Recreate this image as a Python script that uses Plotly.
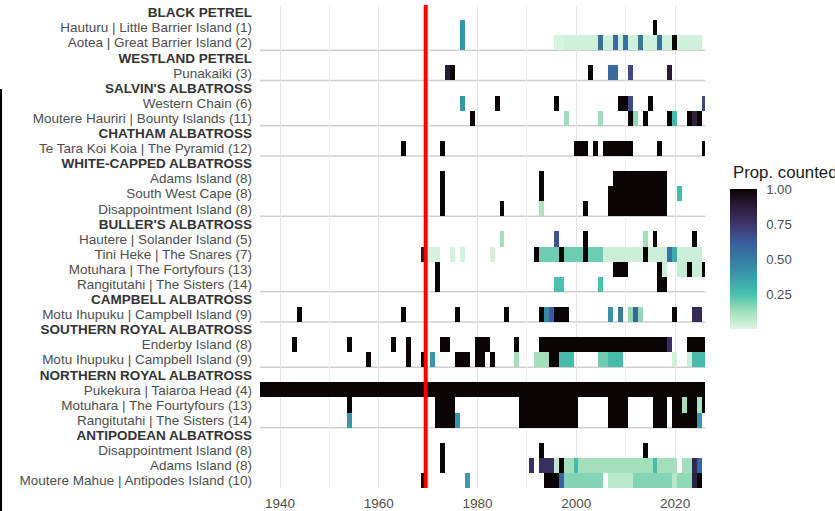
import plotly.graph_objects as go

# --- DATA ---
YEARS = list(range(1936, 2027))

ROW_LABELS = [
    "BLACK PETREL",
    "Hauturu | Little Barrier Island (1)",
    "Aotea | Great Barrier Island (2)",
    "WESTLAND PETREL",
    "Punakaiki (3)",
    "SALVIN'S ALBATROSS",
    "Western Chain (6)",
    "Moutere Hauriri | Bounty Islands (11)",
    "CHATHAM ALBATROSS",
    "Te Tara Koi Koia | The Pyramid (12)",
    "WHITE-CAPPED ALBATROSS",
    "Adams Island (8)",
    "South West Cape (8)",
    "Disappointment Island (8)",
    "BULLER'S ALBATROSS",
    "Hautere | Solander Island (5)",
    "Tini Heke | The Snares (7)",
    "Motuhara | The Fortyfours (13)",
    "Rangitutahi | The Sisters (14)",
    "CAMPBELL ALBATROSS",
    "Motu Ihupuku | Campbell Island (9)",
    "SOUTHERN ROYAL ALBATROSS",
    "Enderby Island (8)",
    "Motu Ihupuku | Campbell Island (9)",
    "NORTHERN ROYAL ALBATROSS",
    "Pukekura | Taiaroa Head (4)",
    "Motuhara | The Fourtyfours (13)",
    "Rangitutahi | The Sisters (14)",
    "ANTIPODEAN ALBATROSS",
    "Disappointment Island (8)",
    "Adams Island (8)",
    "Moutere Mahue | Antipodes Island (10)",
]
HEADER_ROWS = [0, 3, 5, 8, 10, 14, 19, 21, 24, 28]

# (first year, last year, proportion counted); later entries overwrite earlier ones
OBS = {
    1: [(1977, 1977, 0.40), (2016, 2016, 1.0)],
    2: [(1977, 1977, 0.40), (1996, 1997, 0.01), (1998, 2025, 0.03),
        (2005, 2005, 0.54), (2008, 2008, 0.56), (2010, 2010, 0.53),
        (2013, 2013, 0.52), (2017, 2017, 0.54), (2020, 2020, 1.0)],
    4: [(1974, 1974, 0.88), (1975, 1975, 1.0), (2003, 2003, 1.0),
        (2007, 2008, 0.57), (2011, 2011, 0.68), (2019, 2019, 0.88)],
    6: [(1977, 1977, 0.40), (1984, 1984, 1.0), (1996, 1996, 1.0),
        (2009, 2010, 1.0), (2011, 2011, 0.68), (2015, 2015, 1.0), (2026, 2026, 0.68)],
    7: [(1979, 1979, 1.0), (1998, 1998, 0.13), (2005, 2005, 0.13),
        (2011, 2011, 1.0), (2012, 2012, 0.15), (2014, 2014, 1.0),
        (2019, 2019, 1.0), (2020, 2020, 0.27), (2023, 2023, 1.0),
        (2024, 2024, 0.85), (2025, 2025, 1.0)],
    9: [(1965, 1965, 1.0), (1973, 1973, 1.0), (2000, 2002, 1.0),
        (2004, 2004, 1.0), (2006, 2011, 1.0), (2017, 2017, 1.0), (2026, 2026, 1.0)],
    11: [(1973, 1973, 1.0), (1993, 1993, 1.0), (2008, 2018, 1.0)],
    12: [(1973, 1973, 1.0), (1993, 1993, 1.0), (2007, 2018, 1.0), (2021, 2021, 0.27)],
    13: [(1973, 1973, 1.0), (1985, 1985, 1.0), (1993, 1993, 0.10),
         (2002, 2002, 1.0), (2007, 2018, 1.0)],
    15: [(1985, 1985, 0.12), (1996, 1996, 0.65), (2002, 2002, 1.0),
         (2014, 2014, 0.12), (2016, 2016, 1.0), (2024, 2024, 1.0)],
    16: [(1969, 1969, 0.90), (1970, 1972, 0.02), (1975, 1975, 0.02),
         (1977, 1977, 0.02), (1983, 1983, 0.02), (1992, 1992, 1.0),
         (1993, 1996, 0.20), (1997, 1997, 1.0), (1998, 2001, 0.20),
         (2002, 2002, 1.0), (2003, 2005, 0.20), (2006, 2013, 0.04),
         (2014, 2014, 1.0), (2015, 2018, 0.04), (2019, 2019, 0.52),
         (2020, 2020, 0.33), (2021, 2025, 0.04)],
    17: [(1972, 1972, 1.0), (2008, 2010, 1.0), (2017, 2017, 1.0),
         (2018, 2018, 0.04), (2021, 2022, 0.05), (2023, 2023, 1.0),
         (2024, 2025, 0.04), (2026, 2026, 1.0)],
    18: [(1972, 1972, 1.0), (1996, 1997, 0.25), (2005, 2005, 0.25), (2017, 2018, 1.0)],
    20: [(1944, 1944, 1.0), (1965, 1965, 1.0), (1976, 1976, 1.0),
         (1986, 1986, 1.0), (1993, 1993, 1.0), (1994, 1994, 0.45),
         (1995, 1995, 0.62), (1996, 1998, 1.0), (2007, 2007, 0.42),
         (2009, 2009, 0.50), (2011, 2011, 0.15), (2012, 2012, 0.58),
         (2013, 2013, 0.15), (2020, 2020, 1.0), (2024, 2025, 0.80)],
    22: [(1943, 1943, 1.0), (1954, 1954, 1.0), (1963, 1963, 1.0),
         (1966, 1966, 1.0), (1973, 1974, 1.0), (1980, 1982, 1.0),
         (1988, 1988, 1.0), (1993, 2018, 1.0), (2019, 2019, 0.78),
         (2023, 2026, 1.0)],
    23: [(1958, 1958, 1.0), (1966, 1966, 1.0), (1969, 1969, 1.0),
         (1971, 1971, 0.40), (1976, 1978, 1.0), (1980, 1981, 1.0),
         (1983, 1983, 1.0), (1988, 1988, 0.12), (1992, 1994, 0.12),
         (1995, 1996, 1.0), (1997, 1999, 0.27), (2005, 2006, 0.20),
         (2007, 2009, 0.27), (2020, 2020, 0.02), (2023, 2023, 0.04),
         (2024, 2026, 0.27)],
    25: [(1936, 2026, 1.0)],
    26: [(1954, 1954, 1.0), (1972, 1975, 1.0), (1989, 2000, 1.0),
         (2007, 2010, 1.0), (2016, 2018, 1.0), (2020, 2021, 1.0),
         (2022, 2022, 0.12), (2023, 2024, 1.0), (2025, 2025, 0.10),
         (2026, 2026, 1.0)],
    27: [(1954, 1954, 0.40), (1972, 1975, 1.0), (1976, 1976, 0.40),
         (1989, 2000, 1.0), (2007, 2010, 1.0), (2016, 2018, 1.0),
         (2020, 2024, 1.0), (2025, 2025, 0.40)],
    29: [(1973, 1973, 1.0), (1993, 1993, 1.0), (2014, 2014, 1.0)],
    30: [(1973, 1973, 1.0), (1991, 1991, 0.78), (1993, 1995, 0.78),
         (1996, 1996, 0.07), (1997, 1997, 1.0), (1998, 1999, 0.12),
         (2000, 2000, 0.27), (2001, 2015, 0.12), (2016, 2016, 0.27),
         (2017, 2020, 0.12), (2022, 2023, 0.12), (2024, 2024, 0.82),
         (2025, 2025, 0.58)],
    31: [(1969, 1969, 1.0), (1978, 1978, 0.38), (1994, 1996, 1.0),
         (1997, 1997, 0.60), (1998, 2005, 0.17), (2007, 2011, 0.07),
         (2012, 2019, 0.17), (2020, 2020, 0.08), (2021, 2023, 0.15),
         (2024, 2024, 0.85), (2025, 2025, 1.0)],
}

REF_YEAR = 1969.5

# --- THEME ---
TEXT_COLOR = "#4D4D4D"
HEADER_COLOR = "#333333"
FONT = "Liberation Sans, Arial, sans-serif"

MAKO_R = [
    [0.0, "#DEF5E5"], [0.125, "#A0DFB9"], [0.25, "#49C1AD"],
    [0.375, "#389EAB"], [0.5, "#357BA2"], [0.625, "#3B5A9D"],
    [0.75, "#3E356B"], [0.875, "#2B1C3A"], [1.0, "#0B0405"],
]

# build the matrix
z = [[None] * len(YEARS) for _ in ROW_LABELS]
for row, segs in OBS.items():
    for y0, y1, v in segs:
        for yr in range(y0, y1 + 1):
            z[row][yr - YEARS[0]] = v

ticktext = []
for i, lab in enumerate(ROW_LABELS):
    if i in HEADER_ROWS:
        ticktext.append('<span style="color:%s"><b>%s</b></span>' % (HEADER_COLOR, lab))
    else:
        ticktext.append(lab)

fig = go.Figure()
fig.add_trace(
    go.Heatmap(
        x=YEARS,
        y=list(range(len(ROW_LABELS))),
        z=z,
        zmin=0,
        zmax=1,
        colorscale=MAKO_R,
        hoverongaps=False,
        colorbar=dict(
            tickvals=[0.25, 0.5, 0.75, 1.0],
            ticktext=["0.25", "0.50", "0.75", "1.00"],
            ticks="outside",
            tickcolor="white",
            ticklen=7,
            outlinewidth=0,
            thickness=27,
            lenmode="pixels",
            len=140,
            x=1.056,
            xanchor="left",
            xpad=0,
            y=0.474,
            yanchor="middle",
            ypad=0,
            tickfont=dict(size=13.2, color=TEXT_COLOR, family=FONT),
        ),
    )
)

# legend title (clipped at the right edge like the original)
fig.add_annotation(text="Prop. counted", xref="paper", yref="paper",
                   x=1.0584, y=0.654, xanchor="left", yanchor="middle",
                   showarrow=False, font=dict(size=16.8, color="#1a1a1a", family=FONT))

# separators above each species block
for h in HEADER_ROWS[1:]:
    fig.add_shape(type="line", xref="x", yref="y", x0=1935.95, x1=2026.05,
                  y0=h - 0.5, y1=h - 0.5, line=dict(color="#CFCFCF", width=1.5),
                  layer="below")

fig.add_shape(type="line", xref="x", yref="y", x0=REF_YEAR, x1=REF_YEAR,
              y0=-0.5, y1=len(ROW_LABELS) - 0.5, line=dict(color="#FF0000", width=4))

# page border at left
fig.add_shape(type="line", xref="paper", yref="paper", x0=-0.582, x1=-0.582,
              y0=0.826, y1=-0.05, line=dict(color="#000000", width=2))

fig.update_layout(
    width=835,
    height=511,
    margin=dict(l=260, r=130, t=5, b=23, autoexpand=False),
    paper_bgcolor="white",
    plot_bgcolor="white",
    font=dict(family=FONT, color=TEXT_COLOR),
    xaxis=dict(
        range=[1935.95, 2026.05],
        tickvals=[1940, 1960, 1980, 2000, 2020],
        showgrid=True,
        gridcolor="#E4E4E4",
        gridwidth=1.2,
        minor=dict(tickvals=[1950, 1970, 1990, 2010], showgrid=True,
                   gridcolor="#EFEFEF", gridwidth=0.8),
        zeroline=False,
        showline=False,
        ticks="",
        automargin=False,
        ticklabelstandoff=5,
        tickfont=dict(size=13.5, color=TEXT_COLOR),
    ),
    yaxis=dict(
        range=[len(ROW_LABELS) - 0.5, -0.5],
        tickvals=list(range(len(ROW_LABELS))),
        ticktext=ticktext,
        showgrid=False,
        zeroline=False,
        showline=False,
        ticks="",
        automargin=False,
        ticklabelstandoff=7,
        tickfont=dict(size=13.5, color=TEXT_COLOR),
    ),
)

fig.write_html("out.html", config={"displayModeBar": False},
               post_script="document.body.style.margin = '0';")
